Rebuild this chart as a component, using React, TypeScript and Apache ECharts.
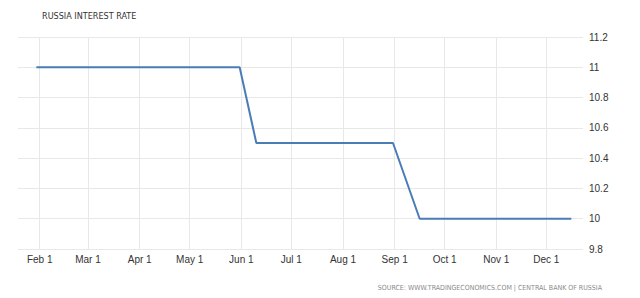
import React, { useEffect, useRef } from "react";
import * as echarts from "echarts";

const dates = ["2016-01-30", "2016-05-31", "2016-06-10", "2016-08-31", "2016-09-16", "2016-12-16"];
const rates = [11, 11, 10.5, 10.5, 10, 10];
const tickDates = [
  "2016-02-01", "2016-03-01", "2016-04-01", "2016-05-01", "2016-06-01", "2016-07-01",
  "2016-08-01", "2016-09-01", "2016-10-01", "2016-11-01", "2016-12-01",
];
const tickLabels = ["Feb 1", "Mar 1", "Apr 1", "May 1", "Jun 1", "Jul 1", "Aug 1", "Sep 1", "Oct 1", "Nov 1", "Dec 1"];
const axisMin = "2016-01-19";
const axisMax = "2016-12-23";

const ts = (s: string) => {
  const [y, m, d] = s.split("-").map(Number);
  return Date.UTC(y, m - 1, d);
};

export default function App() {
  const ref = useRef<HTMLDivElement>(null);
  useEffect(() => {
    document.body.style.margin = "0";
    if (!ref.current) return;
    const chart = echarts.init(ref.current, null, { renderer: "svg" });
    const tickTs = tickDates.map(ts);
    chart.setOption({
      animation: false,
      backgroundColor: "#ffffff",
      title: {
        text: "RUSSIA INTEREST RATE",
        left: 37,
        top: 6,
        textStyle: { fontSize: 9, fontWeight: "normal", color: "#333", fontFamily: "DejaVu Sans Condensed, DejaVu Sans" },
      },
      graphic: [
        {
          type: "text",
          right: 38,
          top: 284,
          style: {
            text: "SOURCE: WWW.TRADINGECONOMICS.COM | CENTRAL BANK OF RUSSIA",
            fill: "#8a8a8a",
            fontSize: 7,
            fontFamily: "DejaVu Sans Condensed, DejaVu Sans",
          },
        },
      ],
      grid: { left: 18, right: 57, top: 37, bottom: 49 },
      xAxis: {
        type: "value",
        min: ts(axisMin),
        max: ts(axisMax),
        axisLine: { show: false },
        axisTick: { show: false, customValues: tickTs },
        axisLabel: {
          customValues: tickTs,
          formatter: (v: number) => {
            const i = tickTs.indexOf(v);
            return i >= 0 ? tickLabels[i] : "";
          },
          color: "#333",
          fontSize: 10,
          fontFamily: "Liberation Sans, Arial",
          margin: 5,
        },
        splitLine: { show: true, lineStyle: { color: "#e8e8e8", width: 1 } },
      },
      yAxis: {
        type: "value",
        position: "right",
        min: 9.8,
        max: 11.2,
        interval: 0.2,
        axisLine: { show: false },
        axisTick: { show: false },
        axisLabel: {
          color: "#333",
          fontSize: 10,
          fontFamily: "Liberation Sans, Arial",
          margin: 6,
          formatter: (v: number) => String(Math.round(v * 10) / 10),
        },
        splitLine: { show: true, lineStyle: { color: "#e8e8e8", width: 1 } },
      },
      series: [
        {
          type: "line",
          data: dates.map((d, i) => [ts(d), rates[i]]),
          showSymbol: false,
          symbol: "none",
          lineStyle: { color: "#4a7db5", width: 2 },
        },
      ],
    });
    return () => chart.dispose();
  }, []);
  return <div ref={ref} style={{ width: 640, height: 298 }} />;
}
